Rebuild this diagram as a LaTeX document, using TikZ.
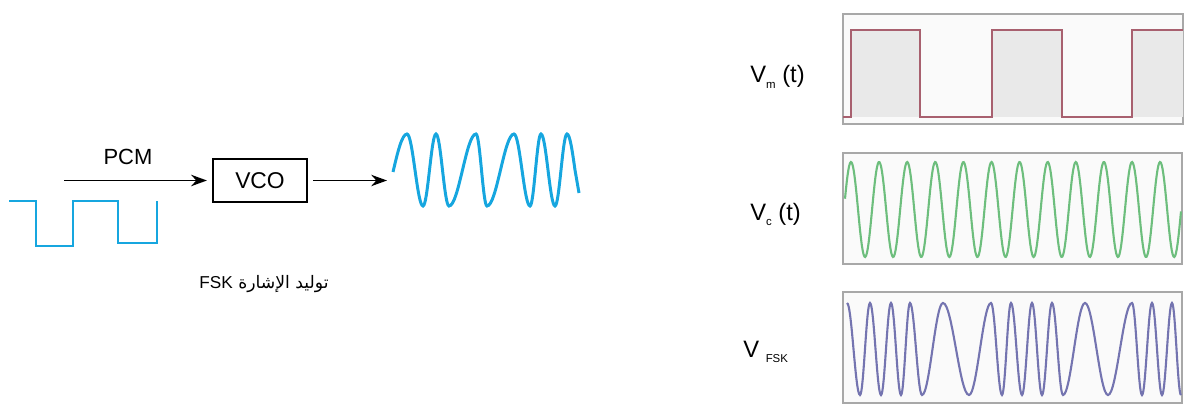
\documentclass[tikz,border=0pt]{standalone}
\usepackage{fontspec}
\setmainfont{Liberation Sans}
\newfontfamily\arabicfont[Script=Arabic]{DejaVu Sans}
\TeXXeTstate=1
\usetikzlibrary{arrows.meta,positioning}
\definecolor{pcmblue}{HTML}{16A6DF}
\definecolor{framegray}{HTML}{A8A8A8}
\definecolor{shadegray}{HTML}{E9E9E9}
\definecolor{vmrose}{HTML}{A8606F}
\definecolor{vcgreen}{HTML}{6DBE7D}
\definecolor{fskviolet}{HTML}{7474B0}
\newcommand\sublbl[1]{\raisebox{-3pt}{\fontsize{6.5}{7}\selectfont #1}}

\begin{document}
\begin{tikzpicture}[x=0.02cm,y=-0.02cm,
			blk/.style={draw,line width=0.9pt,minimum width=1.88cm,minimum height=0.86cm,inner sep=0pt,font=\fontsize{13}{15}\selectfont},
			arr/.style={-{Stealth[length=9pt,width=6.5pt]},line width=1pt},
			wave/.style={pcmblue,line width=1.7pt},
			panel/.style={draw=framegray,fill=gray!4,line width=0.8pt},
			lbl/.style={anchor=base west,inner sep=0pt,font=\fontsize{13.5}{16}\selectfont}
			]
			\useasboundingbox (0,0) rectangle (1194,412);
			\node[blk] (vco) at (260,180.5) {VCO};
			\coordinate (pcmin) at (64,180.5);
			\coordinate (fskout) at (387,180.5);
			\node[font=\fontsize{12.5}{15}\selectfont] (pcm) at (128,157) {PCM};
			\draw[arr,shorten >=3pt] (pcmin) -- (vco);
			\draw[arr,shorten <=3pt] (vco) -- (fskout);
			\draw[wave] (9,201) -| (36,246) -| (73,201) -| (118,243) -| (157,201);
			\draw[wave] (393,172) sin (407,134) foreach \x [count=\i, remember=\x as \px (initially 407), evaluate=\i as \yy using {ifthenelse(mod(\i,2)==1,206,134)}] in {423,436,449,476,487,514,530,541,555,567} { cos ({(\px+\x)/2},170) sin (\x,\yy) } cos (575,170) -- (579,193);
			\node[font=\arabicfont\fontsize{9.8}{12}\selectfont] (caption) at (264,284) {\beginR توليد الإشارة \beginL{\rmfamily FSK}\endL\endR};
			\draw[panel] (843,14) rectangle (1183,124);
			\fill[shadegray] (851,30) rectangle (920,117) (992,30) rectangle (1062,117) (1132,30) rectangle (1183,117);
			\draw[vmrose,line width=1pt] (843,117) -| (851,30) -| (920,117) -| (992,30) -| (1062,117) -| (1132,30) -- (1183,30);
			\draw[panel] (843,153) rectangle (1182,264);
			\draw[vcgreen,line width=1.2pt] plot[domain=845:1181,samples=400] (\x,{209.5-47.5*cos(12.811*(\x-851))});
			\draw[panel] (843,292) rectangle (1182,403);
			\draw[fskviolet,line width=1.2pt] (847,303) foreach \x [count=\i, remember=\x as \px (initially 847), evaluate=\i as \yy using {ifthenelse(mod(\i,2)==1,395,303)}] in {860,870,881,891,901,910,922,943,969,991,1002,1011,1022,1032,1042,1052,1063,1085,1108,1132,1142,1152,1162,1172,1181} { cos ({(\px+\x)/2},349) sin (\x,\yy) };
			\node[lbl] (vm) at (750,83) {V\sublbl{m} (t)};
			\node[lbl] (vc) at (750,220) {V\sublbl{c} (t)};
			\node[lbl] (vfsk) at (743,357) {V \sublbl{FSK}};
		\end{tikzpicture}
\end{document}
